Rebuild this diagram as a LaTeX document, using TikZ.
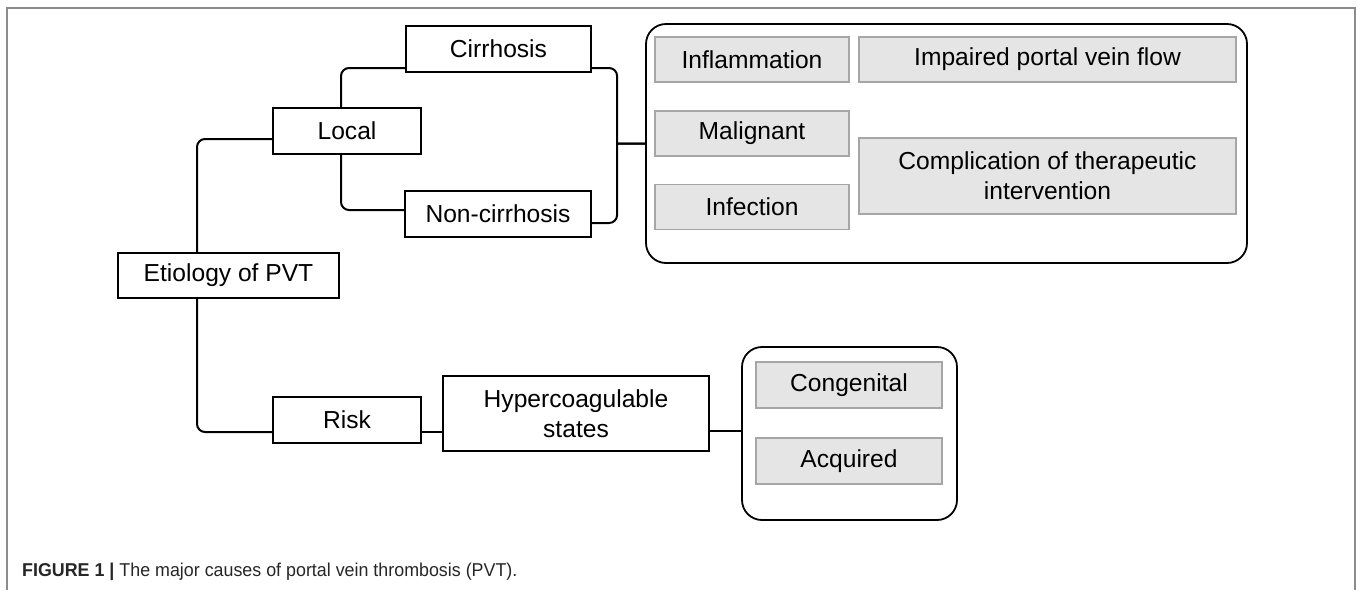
\documentclass[tikz,border=0pt]{standalone}
\usepackage{fontspec}
\usepackage{graphicx}
\setmainfont{Liberation Sans}
\begin{document}
\begin{tikzpicture}[x=1pt,y=-1pt,
  base/.style={font=\fontsize{24.6}{30}\selectfont, align=center, inner sep=0pt, text=black},
  wbox/.style={base, draw=black, line width=1.3pt, fill=white, minimum height=46pt},
  gbox/.style={base, draw=black!35, fill=black!10, line width=1.2pt, minimum height=45pt},
  conn/.style={draw=black, line width=2pt, rounded corners=8pt},
  grp/.style={draw=black, line width=1.8pt, rounded corners=20pt, inner sep=0pt}]
\useasboundingbox (0,0) rectangle (1357,590);
\draw[black!45, line width=1.2pt] (7,590) -- (7,8) -- (1355,8) -- (1355,590);

% white nodes
\node[wbox, minimum width=185pt] (cir) at (498.5,49) {Cirrhosis};
\node[wbox, minimum width=148pt] (loc) at (347,131) {Local};
\node[wbox, minimum width=186pt] (non) at (498,214) {Non-cirrhosis};
\node[wbox, minimum width=221pt, minimum height=45pt] (ety) at (228.5,275.5) {Etiology of PVT};
\node[wbox, minimum width=148pt] (risk) at (347,420) {Risk};
\node[wbox, minimum width=266pt, minimum height=75pt] (hyp) at (576,413.5) {Hypercoagulable\\states};

% group boxes
\node[grp, minimum width=601pt, minimum height=239pt] (big) at (946.5,143.5) {};
\node[grp, minimum width=215pt, minimum height=173pt] (sml) at (849.5,433.5) {};

% gray nodes
\node[gbox, minimum width=194pt] (infl) at (752,59.5) {Inflammation};
\node[gbox, minimum width=377pt] (imp) at (1047.5,59.5) {Impaired portal vein flow};
\node[gbox, minimum width=194pt] (mal) at (752,133.5) {Malignant};
\node[gbox, minimum width=194pt] (inf) at (752,207) {Infection};
\node[gbox, minimum width=377pt, minimum height=76pt] (comp) at (1047.5,176) {Complication of therapeutic\\intervention};
\node[gbox, minimum width=186pt, minimum height=46pt] (cong) at (849,385) {Congenital};
\node[gbox, minimum width=186pt, minimum height=46pt] (acq) at (849,461) {Acquired};

% connectors
\draw[conn] ([xshift=-31.5pt]ety.north) |- ([yshift=-8pt]loc.west);
\draw[conn] ([xshift=-6pt]loc.north) |- ([yshift=-19pt]cir.west);
\draw[conn] ([xshift=-6pt]loc.south) |- ([yshift=4pt]non.west);
\draw[conn] ([xshift=-31.5pt]ety.south) |- ([yshift=-12pt]risk.west);
\coordinate (r1) at ([yshift=-12pt]risk.east);
\draw[conn] (r1) -- (r1 -| hyp.west);
\coordinate (h1) at ([yshift=-17.5pt]hyp.east);
\draw[conn] (h1) -- (h1 -| sml.west);

% brace
\coordinate (c1) at ([yshift=-19pt]cir.east);
\coordinate (n1) at ([yshift=-9pt]non.east);
\draw[conn] (c1) -| ([xshift=-28pt,yshift=8pt]big.west) .. controls ([xshift=-28pt]big.west) .. (big.west);
\draw[conn] (n1) -| ([xshift=-28pt,yshift=-8pt]big.west) .. controls ([xshift=-28pt]big.west) .. (big.west);

% caption
\node[anchor=base west, inner sep=0pt, text=black!85, font=\fontsize{18.6}{20}\selectfont] (cap) at (22,576)
  {\scalebox{0.96}[1]{\textbf{FIGURE 1 |} The major causes of portal vein thrombosis (PVT).}};
\end{tikzpicture}
\end{document}
